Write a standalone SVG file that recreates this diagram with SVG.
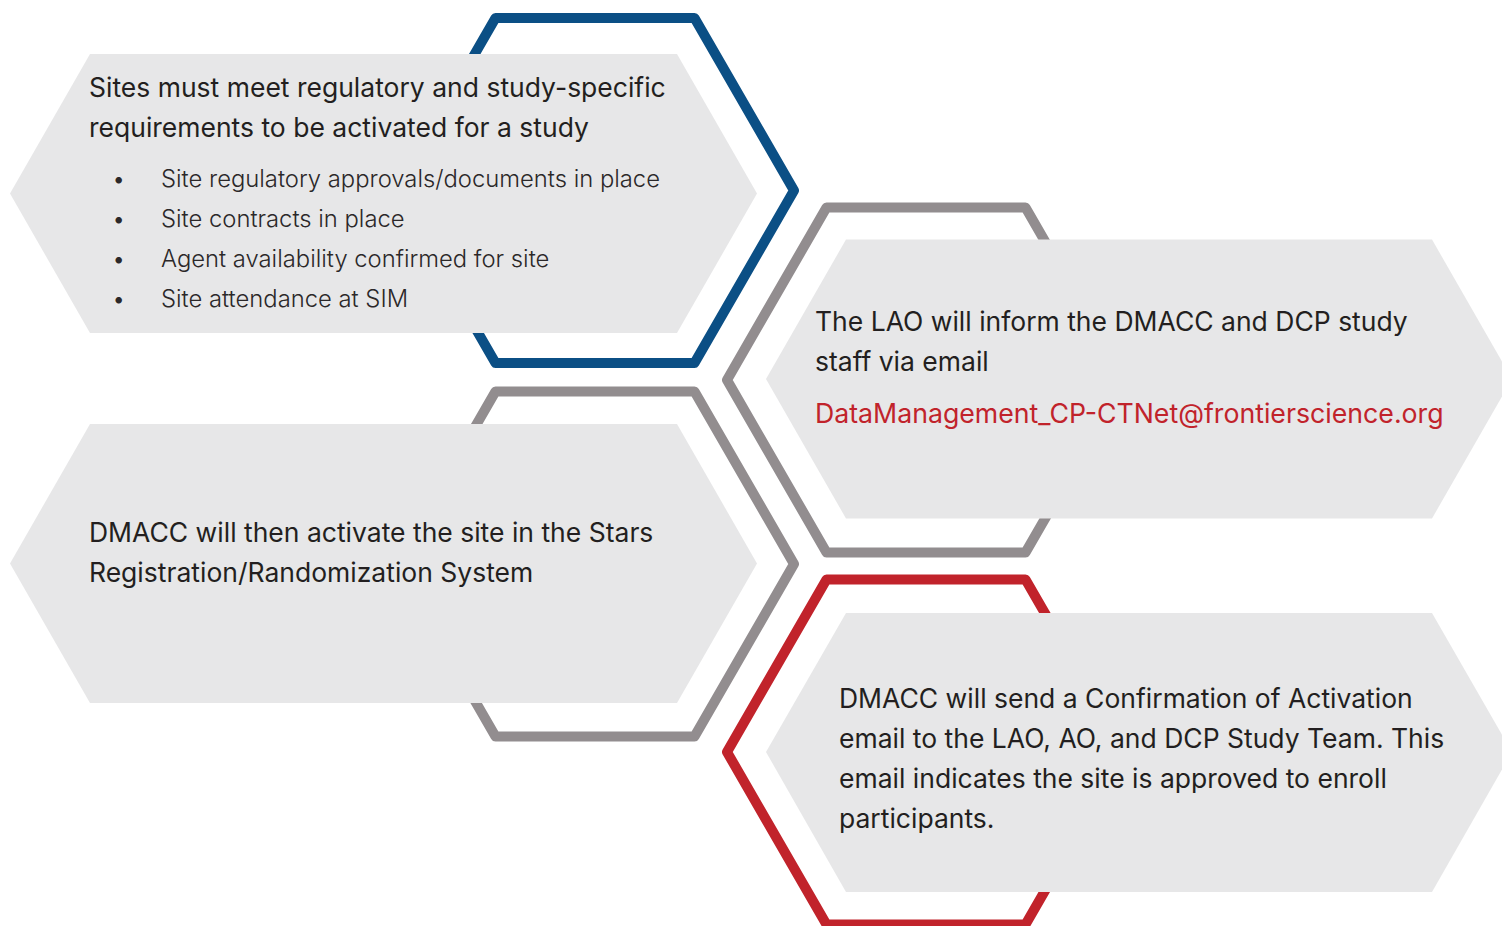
<svg xmlns="http://www.w3.org/2000/svg" width="1502" height="926" viewBox="0 0 1502 926">
  <style>
    .frame { fill: none; stroke-width: 10; stroke-linejoin: round; }
    .blue { stroke: #0b4f85; }
    .grey { stroke: #928d8f; }
    .red { stroke: #c1232b; }
    .panel { fill: #e7e7e8; }
    .t { font-family: Inter, "Liberation Sans", sans-serif; font-size: 26.5px; fill: #231f20; }
    .b { font-family: Inter, "Liberation Sans", sans-serif; font-size: 23.8px; font-weight: 300; fill: #2b2829; }
    .mail { fill: #c1232b; font-size: 26.7px; }
  </style>

  <rect width="1502" height="926" fill="#ffffff"/>

  <!-- hexagonal frame outlines, drawn beneath the panels -->
  <g id="outlines">
    <polygon class="frame blue" points="794,190.5 694.5,18 495.5,18 396,190.5 495.5,363 694.5,363"/>
    <polygon class="frame grey" points="794,564 694.5,391.5 495.5,391.5 396,564 495.5,736.5 694.5,736.5"/>
    <polygon class="frame grey" points="1125,380 1025.5,207.5 826.5,207.5 727,380 826.5,552.5 1025.5,552.5"/>
    <polygon class="frame red" points="1125,752 1025.5,579.5 826.5,579.5 727,752 826.5,924.5 1025.5,924.5"/>
  </g>

  <!-- step 1: site requirements -->
  <g id="step-requirements">
    <polygon class="panel" points="10,193.5 90,54 677,54 757,193.5 677,333 90,333"/>
    <text class="t" x="89" y="97">Sites must meet regulatory and study-specific</text>
    <text class="t" x="89" y="137">requirements to be activated for a study</text>
    <g class="b">
      <text x="112" y="187">•</text>
      <text x="161" y="187">Site regulatory approvals/documents in place</text>
      <text x="112" y="227">•</text>
      <text x="161" y="227">Site contracts in place</text>
      <text x="112" y="267">•</text>
      <text x="161" y="267">Agent availability confirmed for site</text>
      <text x="112" y="307">•</text>
      <text x="161" y="307">Site attendance at SIM</text>
    </g>
  </g>

  <!-- step 2: LAO informs DMACC / DCP -->
  <g id="step-inform">
    <polygon class="panel" points="766,379 846,239.5 1432,239.5 1512,379 1432,518.5 846,518.5"/>
    <text class="t" x="815" y="331">The LAO will inform the DMACC and DCP study</text>
    <text class="t" x="815" y="371">staff via email</text>
    <text class="t mail" x="815" y="423">DataManagement_CP-CTNet@frontierscience.org</text>
  </g>

  <!-- step 3: activation in Stars -->
  <g id="step-activate">
    <polygon class="panel" points="10,563.5 90,424 677,424 757,563.5 677,703 90,703"/>
    <text class="t" x="89" y="541.5">DMACC will then activate the site in the Stars</text>
    <text class="t" x="89" y="581.5">Registration/Randomization System</text>
  </g>

  <!-- step 4: confirmation email -->
  <g id="step-confirm">
    <polygon class="panel" points="766,752 846,613 1432,613 1512,752 1432,892 846,892"/>
    <text class="t" x="839" y="708">DMACC will send a Confirmation of Activation</text>
    <text class="t" x="839" y="748">email to the LAO, AO, and DCP Study Team. This</text>
    <text class="t" x="839" y="788">email indicates the site is approved to enroll</text>
    <text class="t" x="839" y="828">participants.</text>
  </g>
</svg>
